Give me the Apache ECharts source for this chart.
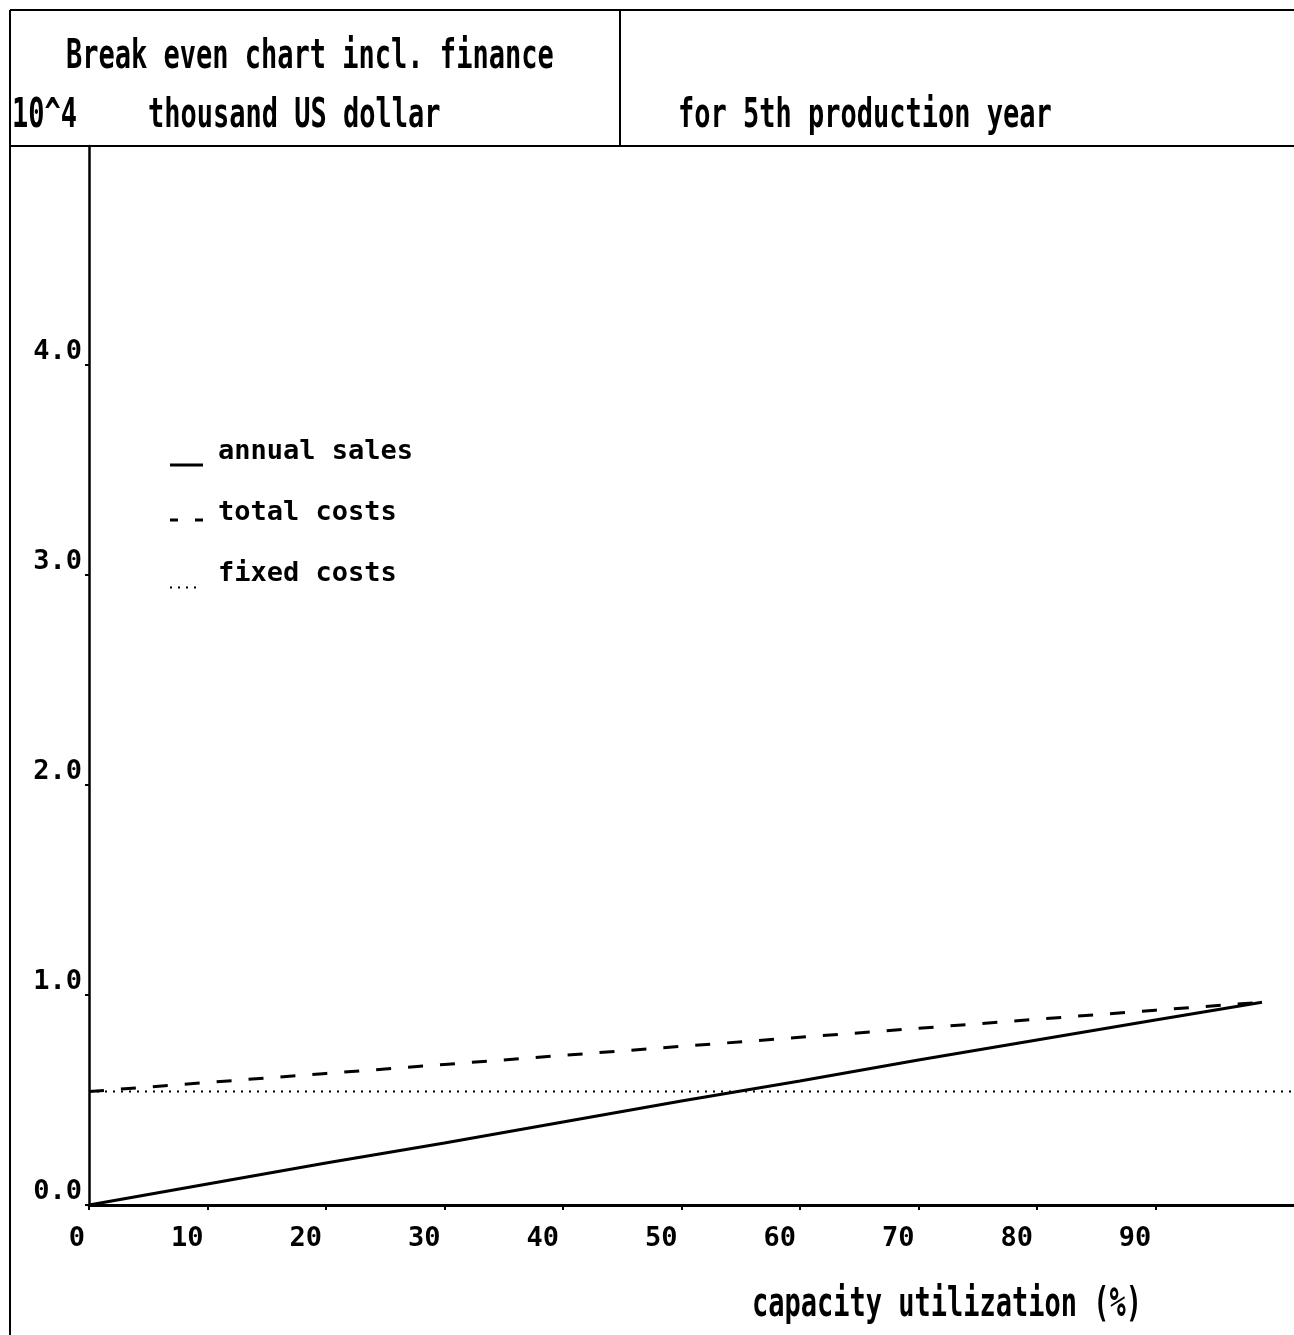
<!DOCTYPE html>
<html>
<head>
<meta charset="utf-8">
<title>Break even chart incl. finance</title>
<script src="https://cdn.jsdelivr.net/npm/echarts@6/dist/echarts.min.js"></script>
<style>
  html, body { margin: 0; padding: 0; background: #fff; }
  #chart { width: 1294px; height: 1335px; }
</style>
</head>
<body>
<div id="chart"></div>
<script>
// Capacity utilization (%) at which the curves are sampled
const utilization = [0, 10, 20, 30, 40, 50, 60, 70, 80, 90, 99];
// Values in 10^4 thousand US dollar
const annualSales = [0, 0.10, 0.20, 0.295, 0.395, 0.495, 0.59, 0.69, 0.785, 0.88, 0.965];
const totalCosts  = [0.54, 0.583, 0.626, 0.669, 0.712, 0.755, 0.798, 0.841, 0.884, 0.927, 0.965];
// Fixed costs run flat across the whole axis
const fixedCostsX = [0, 101.7];
const fixedCostsY = [0.54, 0.54];

const xTickValues = [0, 10, 20, 30, 40, 50, 60, 70, 80, 90];
const yTickValues = [0, 1, 2, 3, 4];
const yTickLabels = ['0.0', '1.0', '2.0', '3.0', '4.0'];

const seriesNames = ['annual sales', 'total costs', 'fixed costs'];

const MONO = '"DejaVu Sans Mono", "Liberation Mono", monospace';

const pairs = (xs, ys) => xs.map((x, i) => [x, ys[i]]);

// Tall, narrow header text: a monospace face stretched vertically
function tallText(text, x, y) {
  return {
    type: 'text', x: x, y: y, scaleY: 1.5, originX: 0, originY: 0,
    style: {
      text: text, fill: '#000', align: 'left', verticalAlign: 'middle',
      font: 'bold 27px ' + MONO
    }
  };
}
function rule(x1, y1, x2, y2) {
  return { type: 'line', shape: { x1: x1, y1: y1, x2: x2, y2: y2 },
           style: { stroke: '#000', lineWidth: 2 } };
}

// Legend samples sit on the text baseline: each path spans a 43x30 box
// (the bare moveTo points fix the box) and draws in its lower-left part,
// leaving a gap before the label.
const ICON_SOLID = 'path://M0,0M0,27h33v3h-33zM43,30';
const ICON_DASH = 'path://M0,0M0,21h8v3h-8zM25,21h8v3h-8zM43,30';
const ICON_DOT = 'path://M0,0M0,28h2v2h-2zM8,28h2v2h-2zM16,28h2v2h-2zM24,28h2v2h-2zM43,30';

const chart = echarts.init(document.getElementById('chart'), null, { renderer: 'canvas' });

chart.setOption({
  backgroundColor: '#fff',
  animation: false,
  grid: { left: 89, top: 146, right: 0, bottom: 130, containLabel: false },
  xAxis: {
    type: 'value', min: 0, max: 101.7, interval: 10,
    axisLine: { lineStyle: { color: '#000', width: 3 } },
    axisTick: { customValues: xTickValues, length: 5, lineStyle: { color: '#000', width: 2 } },
    axisLabel: {
      customValues: xTickValues, margin: 20, align: 'right', padding: [0, 4, 0, 0],
      color: '#000', fontFamily: MONO, fontWeight: 'bold', fontSize: 27
    },
    splitLine: { show: false }
  },
  yAxis: {
    type: 'value', min: 0, max: 5.04, interval: 1,
    axisLine: { show: true, lineStyle: { color: '#000', width: 2.5 } },
    axisTick: { show: true, customValues: yTickValues, length: 4, lineStyle: { color: '#000', width: 2 } },
    axisLabel: {
      customValues: yTickValues, margin: 7, verticalAlign: 'bottom', align: 'right',
      color: '#000', fontFamily: MONO, fontWeight: 'bold', fontSize: 27, lineHeight: 26,
      formatter: v => yTickLabels[yTickValues.indexOf(v)]
    },
    splitLine: { show: false }
  },
  legend: {
    orient: 'vertical', left: 170, top: 435, padding: 0, itemGap: 28,
    itemWidth: 43, itemHeight: 30,
    textStyle: { color: '#000', fontFamily: MONO, fontWeight: 'bold', fontSize: 27, lineHeight: 33 },
    data: [
      { name: seriesNames[0], icon: ICON_SOLID },
      { name: seriesNames[1], icon: ICON_DASH },
      { name: seriesNames[2], icon: ICON_DOT }
    ]
  },
  series: [
    {
      name: seriesNames[0], type: 'line', data: pairs(utilization, annualSales),
      symbol: 'none', lineStyle: { color: '#000', width: 3 }, itemStyle: { color: '#000' }
    },
    {
      name: seriesNames[1], type: 'line', data: pairs(utilization, totalCosts),
      symbol: 'none', lineStyle: { color: '#000', width: 3, type: [15, 17] }, itemStyle: { color: '#000' }
    },
    {
      name: seriesNames[2], type: 'line', data: pairs(fixedCostsX, fixedCostsY),
      symbol: 'none', lineStyle: { color: '#000', width: 2, type: [2, 6] }, itemStyle: { color: '#000' }
    }
  ],
  graphic: [
    rule(10, 10, 1294, 10),
    rule(10, 10, 10, 1335),
    rule(620, 10, 620, 146),
    rule(10, 146, 1294, 146),
    tallText('Break even chart incl. finance', 66, 57),
    tallText('10^4', 12, 116),
    tallText('thousand US dollar', 148, 116),
    tallText('for 5th production year', 678, 116),
    tallText('capacity utilization (%)', 752, 1305)
  ]
});
</script>
</body>
</html>
